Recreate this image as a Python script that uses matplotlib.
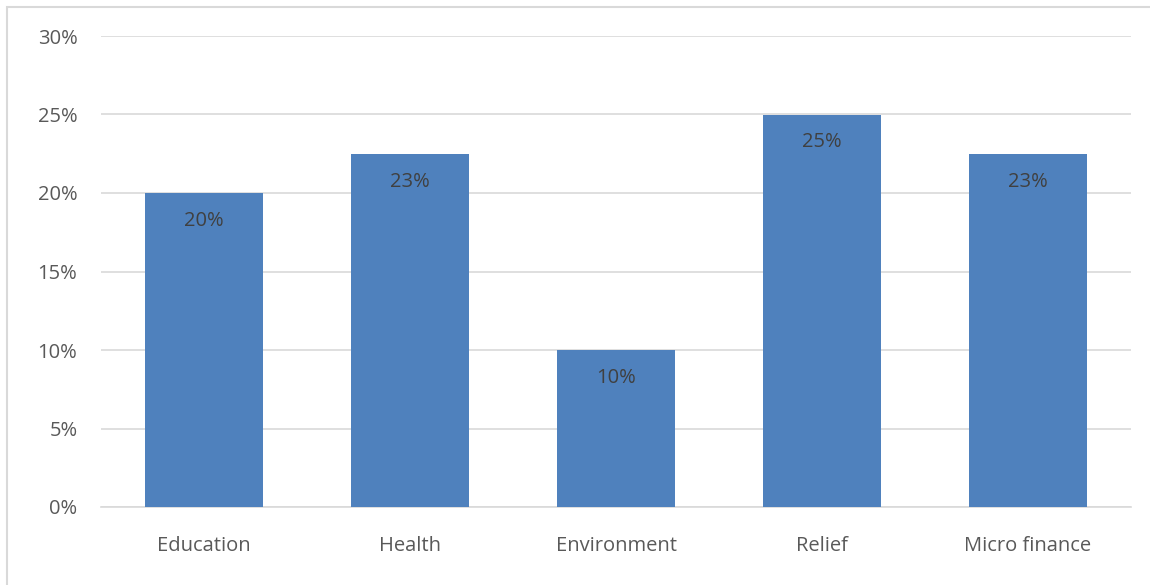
import numpy as np
import matplotlib.pyplot as plt
from matplotlib.patches import Rectangle
from matplotlib.ticker import FuncFormatter, MultipleLocator

categories = ['Education', 'Health', 'Environment', 'Relief', 'Micro finance']
shares = [0.20, 0.225, 0.10, 0.25, 0.225]

bar_color = '#4F81BD'
text_color = '#595959'
grid_color = '#D9D9D9'

plt.rcParams['font.family'] = ['Open Sans', 'DejaVu Sans']

W, H = 1150, 585
fig = plt.figure(figsize=(W / 100, H / 100), dpi=100)

# chart area frame
fig.patches.append(Rectangle((6.5 / W, -0.1), 1.2, 1 - 7.5 / H + 0.1,
                             transform=fig.transFigure, fill=False,
                             edgecolor='#D9D9D9', linewidth=1.5))

ax = fig.add_axes([101 / W, (H - 507) / H, 1030 / W, 471 / H])

x = np.arange(len(categories))
ax.bar(x, shares, width=0.573, color=bar_color, zorder=3)

def pct(v):
    return '%d%%' % int(v * 100 + 0.5)

for xi, v in zip(x, shares):
    ax.text(xi, v - 0.0178, pct(v), ha='center', va='center',
            fontsize=14.5, color='#404040', zorder=4)

ax.set_xlim(-0.5, len(categories) - 0.5)
ax.set_ylim(0, 0.30)
ax.yaxis.set_major_locator(MultipleLocator(0.05))
ax.yaxis.set_major_formatter(FuncFormatter(lambda v, _: '%d%%' % round(v * 100)))
ax.set_xticks(x)
ax.set_xticklabels(categories)

ax.grid(axis='y', color=grid_color, linewidth=1.2, zorder=0)
for side in ['top', 'right', 'left']:
    ax.spines[side].set_visible(False)
ax.spines['bottom'].set_color(grid_color)
ax.spines['bottom'].set_linewidth(1.2)

ax.tick_params(axis='both', length=0, labelsize=14.5, colors=text_color)
ax.tick_params(axis='y', pad=17)
ax.tick_params(axis='x', pad=21)

fig.savefig('out.png', dpi=100)
